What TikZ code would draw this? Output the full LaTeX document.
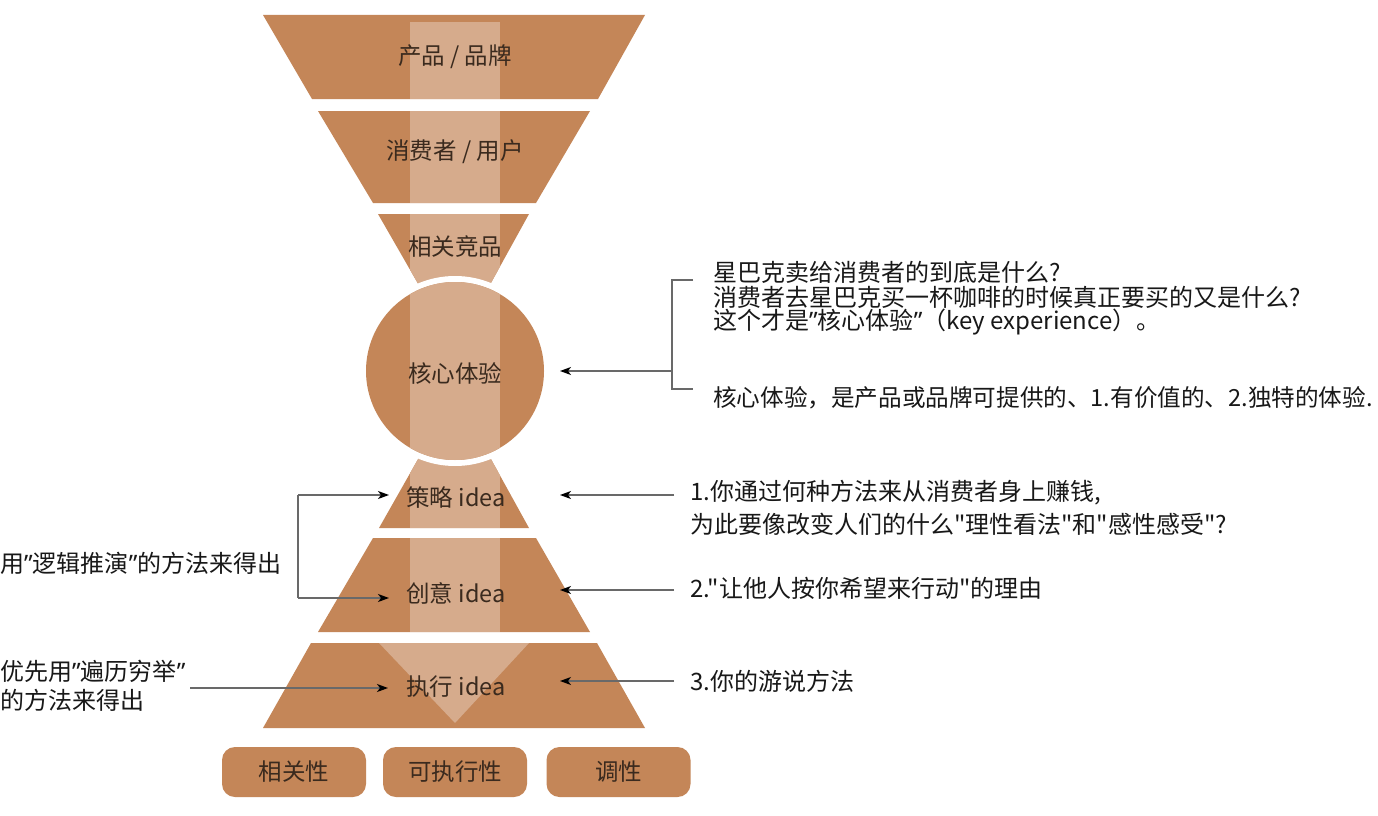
\documentclass[tikz,border=0pt]{standalone}
\usepackage{fontspec}
\setmainfont{Noto Sans CJK SC}[Ligatures=TeXOff]
\newfontfamily\qfont{Noto Sans}[Ligatures=TeXOff]
\newcommand\qmark{{\qfont ”}}
\usetikzlibrary{arrows.meta}
\definecolor{dark}{RGB}{196,134,88}
\definecolor{light}{RGB}{214,171,140}
\definecolor{shtxt}{RGB}{58,42,30}
\definecolor{ink}{RGB}{24,24,24}
\definecolor{conn}{RGB}{105,105,105}
\begin{document}
\begin{tikzpicture}[x=1pt,y=-1pt,
  shapetxt/.style={text=shtxt,font=\fontsize{23.5}{28}\selectfont,inner sep=0pt},
  note/.style={text=ink,font=\fontsize{24}{25}\selectfont,anchor=west,inner sep=0pt},
  connline/.style={draw=conn,line width=1.3pt},
  arr/.style={connline,-{Stealth[length=11pt,width=8pt,inset=3pt,color=black,fill=black]}},
  pill/.style={fill=dark,rounded corners=13pt,draw=none,text=shtxt,font=\fontsize{23.5}{28}\selectfont,
    minimum width=144pt,minimum height=50pt,inner sep=0pt}]
\useasboundingbox (0,0) rectangle (1378,816);
\fill[white] (0,0) rectangle (1378,816);

% --- T1 product / brand
\fill[dark] (263,15) -- (645,15) -- (598,99) -- (312,99) -- cycle;
\begin{scope}
\clip (263,15) -- (645,15) -- (598,99) -- (312,99) -- cycle;
\fill[light] (410,22) rectangle (500,99);
\end{scope}
% --- T2 consumer / user
\fill[dark] (318,111) -- (590,111) -- (536,203) -- (373,203) -- cycle;
\begin{scope}
\clip (318,111) -- (590,111) -- (536,203) -- (373,203) -- cycle;
\fill[light] (410,111) rectangle (500,203);
\end{scope}
% --- T3 competitors
\fill[dark] (378,214) -- (529,214) -- (455,348) -- cycle;
\begin{scope}
\clip (378,214) -- (529,214) -- (455,348) -- cycle;
\fill[light] (410,214) rectangle (500,348);
\end{scope}
% --- T4 strategy idea
\fill[dark] (379,528) -- (529,528) -- (455,394) -- cycle;
\begin{scope}
\clip (379,528) -- (529,528) -- (455,394) -- cycle;
\fill[light] (410,394) rectangle (500,528);
\end{scope}
% --- core circle
\fill[white] (455,371) circle (95pt);
\fill[dark] (455,371) circle (89pt);
\begin{scope}
\clip (455,371) circle (89pt);
\fill[light] (410,270) rectangle (500,470);
\end{scope}
% --- T5 creative idea
\fill[dark] (373,538) -- (536,538) -- (590,632) -- (318,632) -- cycle;
\begin{scope}
\clip (373,538) -- (536,538) -- (590,632) -- (318,632) -- cycle;
\fill[light] (410,538) rectangle (500,632);
\end{scope}
% --- T6 execution idea
\fill[dark] (311,643) -- (597,643) -- (645,728) -- (263,728) -- cycle;
\fill[light] (379,643) -- (529,643) -- (455,723) -- cycle;

% --- shape labels
\node[shapetxt] (s1) at (455,57) {产品 / 品牌};
\node[shapetxt] (s2) at (455,152) {消费者 / 用户};
\node[shapetxt] (s3) at (455,247) {相关竞品};
\node[shapetxt] (s4) at (455,373) {核心体验};
\node[shapetxt] (s5) at (456,498) {策略 idea};
\node[shapetxt] (s6) at (456,593) {创意 idea};
\node[shapetxt] (s7) at (456,687) {执行 idea};

% --- bottom boxes
\node[pill] (b1) at (294,772) {相关性};
\node[pill] (b2) at (455,772) {可执行性};
\node[pill] (b3) at (618.5,772) {调性};

% --- right notes
\node[note] (r1) at (713,272) {星巴克卖给消费者的到底是什么?};
\node[note] (r2) at (713,297) {消费者去星巴克买一杯咖啡的时候真正要买的又是什么?};
\node[note] (r3) at (713,322) {这个才是\qmark 核心体验\qmark（key experience）。};
\node[note,font=\fontsize{23.6}{25}\selectfont] (r4) at (713,398) {核心体验，是产品或品牌可提供的、1.有价值的、2.独特的体验.};
\node[note] (r5) at (690,493) {1.你通过何种方法来从消费者身上赚钱,};
\node[note] (r6) at (690,524) {为此要像改变人们的什么"理性看法"和"感性感受"?};
\node[note] (r7) at (690,588) {2."让他人按你希望来行动"的理由};
\node[note] (r8) at (690,681) {3.你的游说方法};

% --- left notes
\node[note] (l1) at (0,563) {用\qmark 逻辑推演\qmark 的方法来得出};
\node[note] (l2) at (0,671) {优先用\qmark 遍历穷举\qmark};
\node[note] (l3) at (0,700) {的方法来得出};

% --- connector coordinates
\coordinate (bt) at (693,280);
\coordinate (btc) at (672,280);
\coordinate (bbc) at (672,389);
\coordinate (bb) at (693,389);
\coordinate (bm) at (672,371);
\coordinate (coreR) at (560,371);
\coordinate (r5s) at (674,495);
\coordinate (s5R) at (560,495);
\coordinate (r7s) at (674,590);
\coordinate (s6R) at (560,590);
\coordinate (r8s) at (674,681);
\coordinate (s7R) at (560,681);
\coordinate (lbt) at (298,495);
\coordinate (lbb) at (298,598);
\coordinate (s5L) at (389,495);
\coordinate (s6L) at (389,598);
\coordinate (l2s) at (190,688);
\coordinate (s7L) at (388,688);

% --- connectors
\draw[connline] (bt) -- (btc) -- (bbc) -- (bb);
\draw[arr] (bm) -- (coreR);
\draw[arr] (r5s) -- (s5R);
\draw[arr] (r7s) -- (s6R);
\draw[arr] (r8s) -- (s7R);
\draw[arr] (lbt) -- (s5L);
\draw[connline] (lbt) -- (lbb);
\draw[arr] (lbb) -- (s6L);
\draw[arr] (l2s) -- (s7L);
\end{tikzpicture}
\end{document}
